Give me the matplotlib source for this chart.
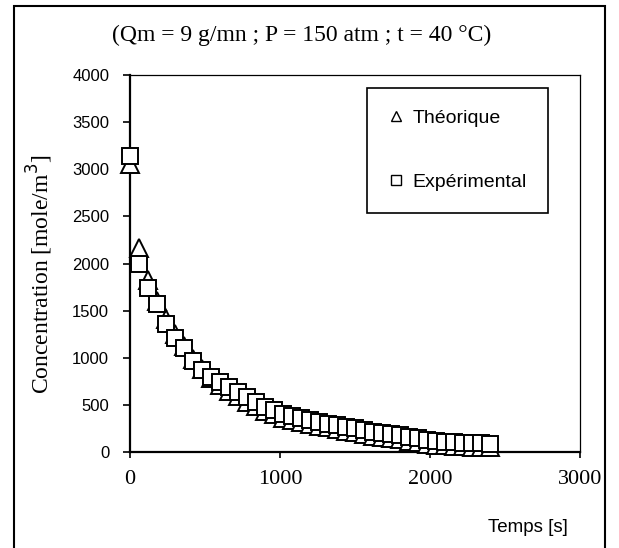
#!/usr/bin/env python3
import matplotlib
matplotlib.use("Agg")
import matplotlib.pyplot as plt
from matplotlib.patches import Rectangle

# time axis (s) - one sample every 60 s
temps = [i * 60 for i in range(41)]

theorique = [3060, 2165, 1830, 1600, 1410, 1250, 1120, 990, 880, 790,
             710, 645, 590, 535, 490, 440, 405, 365, 340, 318,
             296, 278, 260, 243, 226, 208, 190, 175, 162, 148,
             135, 118, 104, 88, 75, 70, 65, 60, 55, 52, 48]

experimental = [3140, 1990, 1740, 1570, 1360, 1210, 1100, 965, 870, 800,
                740, 690, 640, 580, 535, 475, 445, 405, 380, 360,
                338, 320, 302, 285, 268, 250, 233, 217, 205, 190,
                178, 160, 145, 128, 112, 108, 104, 100, 95, 92, 90]

x_ticks = [0, 1000, 2000, 3000]
y_ticks = [0, 500, 1000, 1500, 2000, 2500, 3000, 3500, 4000]

serif = "Liberation Serif"
sans = "Liberation Sans"

W, H = 619, 548
fig = plt.figure(figsize=(W / 100, H / 100), dpi=100)

# outer frame of the chart
fig.patches.append(Rectangle((14 / W, -0.02), 591 / W, 1.02 - 6 / H,
                             transform=fig.transFigure, fill=False,
                             edgecolor="black", linewidth=1.5))

ax = fig.add_axes([130 / W, (H - 452) / H, 450 / W, 377 / H])

ax.plot(temps, theorique, linestyle="none", marker="^", markersize=13,
        markerfacecolor="white", markeredgecolor="black", markeredgewidth=1.4,
        clip_on=False, label="Théorique", zorder=3)
ax.plot(temps, experimental, linestyle="none", marker="s", markersize=12,
        markerfacecolor="white", markeredgecolor="black", markeredgewidth=1.4,
        clip_on=False, label="Expérimental", zorder=4)

ax.set_xlim(0, 3000)
ax.set_ylim(0, 4000)
ax.set_xticks(x_ticks)
ax.set_yticks(y_ticks)
ax.set_xticklabels([str(v) for v in x_ticks], fontfamily=serif, fontsize=16)
ax.set_yticklabels([str(v) for v in y_ticks], fontfamily=sans, fontsize=12)
ax.tick_params(axis="x", direction="out", length=4, width=1.2, pad=9)
ax.tick_params(axis="y", direction="out", length=5, width=1.2, pad=10)

for side in ["left", "bottom"]:
    ax.spines[side].set_linewidth(1.6)
for side in ["top", "right"]:
    ax.spines[side].set_linewidth(0.9)

leg = ax.legend(loc="upper left", bbox_to_anchor=(237 / 450, 1 - 13 / 377),
                frameon=True, fancybox=False, edgecolor="black",
                framealpha=1, prop={"family": sans, "size": 14},
                borderpad=1.1, labelspacing=2.4, handlelength=0.8,
                handletextpad=0.45, borderaxespad=0)
leg.get_frame().set_linewidth(1.2)
for h in leg.legend_handles:
    h.set_markersize(7.5)
    h.set_markeredgewidth(1.0)

fig.text(302 / W, 1 - 35 / H, "(Qm = 9 g/mn ; P = 150 atm ; t = 40 °C)",
         ha="center", va="center", fontfamily=serif, fontsize=17)
fig.text(40 / W, 1 - 274 / H, "Concentration [mole/m$^3$]", rotation=90,
         ha="center", va="center", fontfamily=serif, fontsize=17)
fig.text(528 / W, 1 - 527 / H, "Temps [s]", ha="center", va="center",
         fontfamily=sans, fontsize=13.5)

fig.savefig("out.png", dpi=100)
